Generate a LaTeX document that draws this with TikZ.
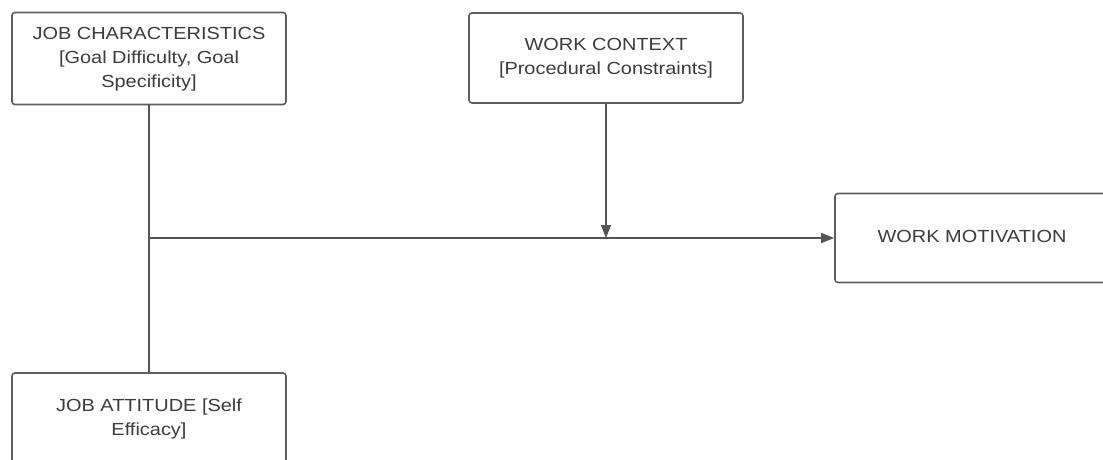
\documentclass[tikz,border=0pt]{standalone}
\usepackage{fontspec}
\setmainfont{Liberation Sans}
\usepackage{graphicx}
\usetikzlibrary{arrows.meta}
\definecolor{boxline}{HTML}{5E5E5E}
\definecolor{conline}{HTML}{555555}
\definecolor{txt}{HTML}{3C3C3C}
\newcommand{\boxtext}[1]{\scalebox{1.14}[1]{\begin{tabular}{@{}c@{}}#1\end{tabular}}}
\tikzset{
  box/.style={draw=boxline, line width=1.6pt, rounded corners=3pt, fill=white,
    minimum width=274pt, minimum height=92pt, inner sep=0pt, align=center,
    text=txt, font=\fontsize{17.5}{24}\selectfont},
  conn/.style={draw=conline, line width=1.5pt},
  arr/.style={conn, -{Triangle[length=13pt,width=10pt]}}
}
\begin{document}
\begin{tikzpicture}[x=1pt,y=-1pt]
\useasboundingbox[fill=white] (0,0) rectangle (1103,459);
\node[box] (jc) at (149,58.5) {\boxtext{JOB CHARACTERISTICS\\{}[Goal Difficulty, Goal\\Specificity]}};
\node[box, minimum height=90pt] (wc) at (606,58) {\boxtext{WORK CONTEXT\\{}[Procedural Constraints]}};
\node[box, minimum height=89pt] (wm) at (972,238) {\boxtext{WORK MOTIVATION}};
\node[box, minimum height=92pt] (ja) at (149,419) {\raisebox{4pt}{\boxtext{JOB ATTITUDE [Self\\Efficacy]}}};
\coordinate (j) at (149,238);
\draw[conn] (jc.south) -- (ja.north);
\draw[arr] (j) -- (wm.west);
\draw[arr] (wc.south) -- (wc.south |- j);
\end{tikzpicture}
\end{document}
